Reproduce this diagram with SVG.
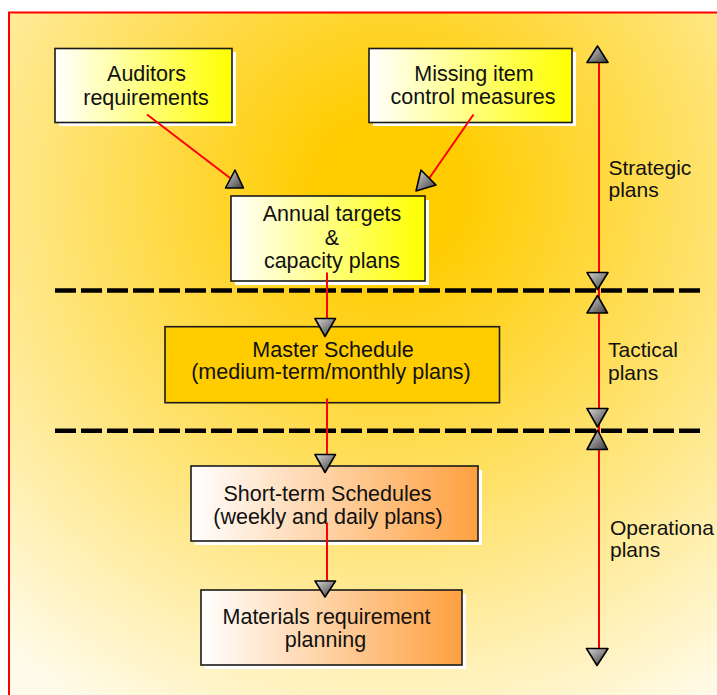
<svg xmlns="http://www.w3.org/2000/svg" width="717" height="695" viewBox="0 0 717 695">
  <defs>
    <radialGradient id="bg" gradientUnits="userSpaceOnUse" cx="390" cy="190" r="600">
      <stop offset="0" stop-color="#FFCC00"/>
      <stop offset="0.12" stop-color="#FFCC00"/>
      <stop offset="1" stop-color="#FFFBEA"/>
    </radialGradient>
    <linearGradient id="yellowFill" x1="0" y1="0" x2="1" y2="0">
      <stop offset="0" stop-color="#FFFFFF"/>
      <stop offset="1" stop-color="#FFFF00"/>
    </linearGradient>
    <linearGradient id="orangeFill" x1="0" y1="0" x2="1" y2="0">
      <stop offset="0" stop-color="#FFFFFF"/>
      <stop offset="1" stop-color="#FFA040"/>
    </linearGradient>
    <linearGradient id="headFill" x1="0" y1="0" x2="1" y2="1">
      <stop offset="0" stop-color="#D8D8D8"/>
      <stop offset="1" stop-color="#3A3A3A"/>
    </linearGradient>
    <style>
      .box { stroke: #1A1A1A; stroke-width: 1.6; }
      .shadow { fill: #FFFFFF; }
      .label { font-family: "Liberation Sans", Arial, sans-serif; font-size: 21.5px; fill: #111111; text-anchor: middle; }
      .side { font-family: "Liberation Sans", Arial, sans-serif; font-size: 21px; fill: #111111; }
      .link { stroke: #FF0000; stroke-width: 2; fill: none; }
      .head { fill: url(#headFill); stroke: #000000; stroke-width: 1.6; stroke-linejoin: round; }
      .divider { stroke: #000000; stroke-width: 4.5; stroke-dasharray: 21 5; fill: none; }
    </style>
  </defs>

  <!-- page background and frame -->
  <rect x="0" y="0" width="717" height="695" fill="#FFFFFF"/>
  <rect x="9" y="12.5" width="720" height="700" fill="url(#bg)" stroke="#FF0000" stroke-width="2"/>

  <!-- planning level dividers -->
  <g id="dividers">
    <line class="divider" x1="55" y1="290.5" x2="702" y2="290.5"/>
    <line class="divider" x1="55" y1="430.8" x2="702" y2="430.8"/>
  </g>

  <!-- nodes -->
  <g id="auditors">
    <rect class="shadow" x="59" y="52" width="177" height="74"/>
    <rect class="box" x="55" y="48.5" width="177" height="74" fill="url(#yellowFill)"/>
    <text class="label" x="146.5" y="81">Auditors</text>
    <text class="label" x="146" y="104.5">requirements</text>
  </g>

  <g id="missing-item">
    <rect class="shadow" x="373" y="52" width="203" height="74"/>
    <rect class="box" x="369" y="48.5" width="203" height="74" fill="url(#yellowFill)"/>
    <text class="label" x="474" y="81">Missing item</text>
    <text class="label" x="473" y="104.3">control measures</text>
  </g>

  <g id="annual-targets">
    <rect class="shadow" x="235" y="200" width="194" height="85"/>
    <rect class="box" x="231" y="196" width="194" height="85" fill="url(#yellowFill)"/>
    <text class="label" x="332" y="221">Annual targets</text>
    <text class="label" x="332" y="245">&amp;</text>
    <text class="label" x="332" y="268.3">capacity plans</text>
  </g>

  <g id="master-schedule">
    <rect class="box" x="165" y="326.7" width="334.5" height="76" fill="#FFCC00"/>
    <text class="label" x="333" y="356.7">Master Schedule</text>
    <text class="label" x="331" y="379.3">(medium-term/monthly plans)</text>
  </g>

  <g id="short-term">
    <rect class="shadow" x="195" y="470" width="287" height="75"/>
    <rect class="box" x="191" y="466" width="287" height="75" fill="url(#orangeFill)"/>
    <text class="label" x="327.5" y="500.7">Short-term Schedules</text>
    <text class="label" x="328" y="524">(weekly and daily plans)</text>
  </g>

  <g id="materials">
    <rect class="shadow" x="205" y="594" width="261" height="75"/>
    <rect class="box" x="201" y="590" width="261" height="75" fill="url(#orangeFill)"/>
    <text class="label" x="326.5" y="623.5">Materials requirement</text>
    <text class="label" x="325.5" y="646.8">planning</text>
  </g>

  <!-- connectors -->
  <g id="connectors">
    <line class="link" x1="147" y1="114.5" x2="230" y2="178"/>
    <polygon class="head" points="235,170 225.5,188 243.5,188"/>

    <line class="link" x1="473.5" y1="114.5" x2="428" y2="180"/>
    <polygon class="head" points="421,170 416,191 436,185"/>

    <line class="link" x1="327" y1="272.5" x2="327" y2="320"/>
    <polygon class="head" points="315,318.5 335.5,318.5 325,336.5"/>

    <line class="link" x1="327" y1="398.5" x2="327" y2="456"/>
    <polygon class="head" points="315,454.5 335.5,454.5 325,472.5"/>

    <line class="link" x1="327" y1="522.5" x2="327" y2="583"/>
    <polygon class="head" points="315,581 335.5,581 325,597"/>
  </g>

  <!-- planning horizon scale -->
  <g id="horizon-scale">
    <line class="link" x1="599" y1="50" x2="599" y2="662"/>
    <polygon class="head" points="597.5,46 587,62.5 608,62.5"/>
    <polygon class="head" points="587,272.5 608,272.5 597.5,289.5"/>
    <polygon class="head" points="597.5,295.5 587,313 607.5,313"/>
    <polygon class="head" points="587,408.5 608,408.5 597.5,427"/>
    <polygon class="head" points="597.5,430 587,449.5 607.5,449.5"/>
    <polygon class="head" points="586.5,648.5 608,648.5 597,665.5"/>
  </g>

  <g id="strategic-label">
    <text class="side" x="608.5" y="175">Strategic</text>
    <text class="side" x="608.5" y="197">plans</text>
  </g>
  <g id="tactical-label">
    <text class="side" x="608" y="357">Tactical</text>
    <text class="side" x="608" y="380">plans</text>
  </g>
  <g id="operational-label">
    <text class="side" x="610" y="535">Operationa</text>
    <text class="side" x="610" y="557">plans</text>
  </g>
</svg>
